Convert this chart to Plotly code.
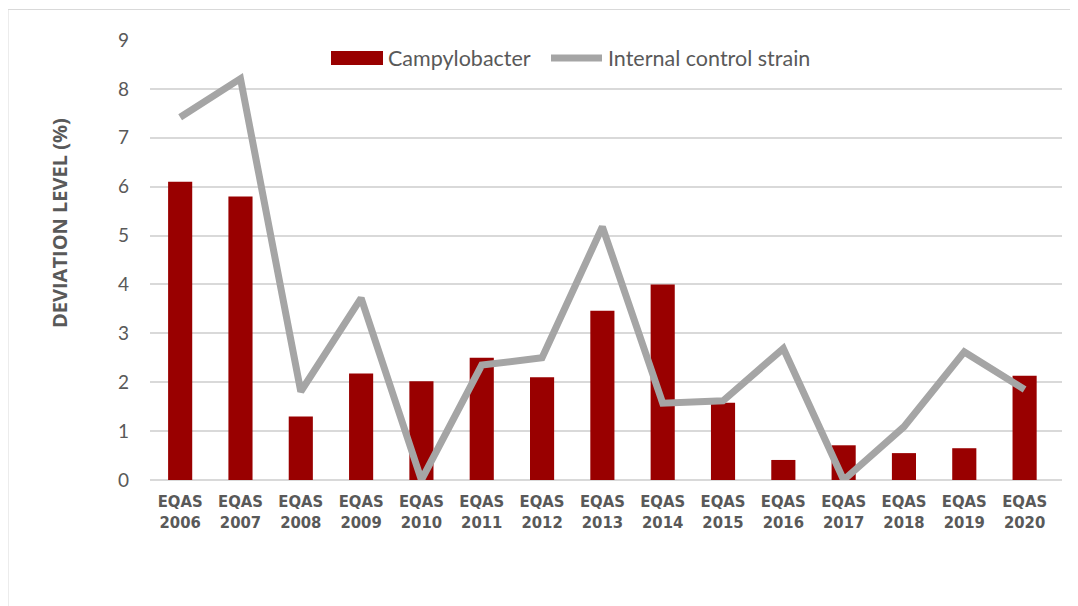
import plotly.graph_objects as go

categories = ["EQAS<br>2006", "EQAS<br>2007", "EQAS<br>2008", "EQAS<br>2009", "EQAS<br>2010",
              "EQAS<br>2011", "EQAS<br>2012", "EQAS<br>2013", "EQAS<br>2014", "EQAS<br>2015",
              "EQAS<br>2016", "EQAS<br>2017", "EQAS<br>2018", "EQAS<br>2019", "EQAS<br>2020"]
campylobacter = [6.1, 5.8, 1.3, 2.18, 2.02, 2.5, 2.1, 3.46, 4.0, 1.58, 0.41, 0.71, 0.55, 0.65, 2.13]
internal_control = [7.42, 8.21, 1.81, 3.72, 0.0, 2.35, 2.5, 5.18, 1.57, 1.62, 2.69, 0.0, 1.09, 2.62, 1.85]
y_ticks = [0, 1, 2, 3, 4, 5, 6, 7, 8, 9]
series_names = ["Campylobacter", "Internal control strain"]
bar_color = "#990000"
line_color = "#a5a5a5"

OFF = 8  # page body margin offset
W, H = 1078, 606
ml, mr, mt, mb = 150 - OFF, 24, 40 - OFF, 134
pw, ph = W - ml - mr, H - mt - mb

def px_x(p):
    return (p - OFF - ml) / pw

def px_y(p):
    return (H - mb - (p - OFF)) / ph

xs = list(range(len(categories)))
fig = go.Figure()
fig.add_trace(go.Bar(x=xs, y=campylobacter, name=series_names[0],
                     marker=dict(color=bar_color, line=dict(width=0)), showlegend=False))
fig.add_trace(go.Scatter(x=xs, y=internal_control, name=series_names[1],
                         mode="lines", line=dict(color=line_color, width=7), showlegend=False))

legend_font = dict(family="Lato, Open Sans, sans-serif", size=21.5, color="#595959")

fig.update_layout(
    width=W, height=H,
    margin=dict(l=ml, r=mr, t=mt, b=mb),
    paper_bgcolor="white", plot_bgcolor="white",
    bargap=0.6,
    xaxis=dict(tickmode="array", tickvals=xs, ticktext=categories,
               range=[-0.5, 14.62], showgrid=False, zeroline=False, showline=False, ticks="",
               tickfont=dict(family="DejaVu Sans Condensed, Liberation Sans Narrow, Arial Narrow, sans-serif",
                             size=16.5, color="#595959", weight="bold"),
               ticklabelstandoff=9, tickangle=0, fixedrange=True),
    yaxis=dict(range=[0, 9], tickmode="array", tickvals=y_ticks, showgrid=True,
               gridcolor="#d9d9d9", gridwidth=1.5, zeroline=True, zerolinecolor="#d9d9d9",
               zerolinewidth=1.5, showline=False, ticks="",
               tickfont=dict(family="Lato, Open Sans, sans-serif", size=19, color="#595959"),
               ticklabelstandoff=20, fixedrange=True),
    shapes=[
        dict(type="line", xref="paper", yref="paper", x0=px_x(8), x1=px_x(8), y0=px_y(9.5), y1=px_y(620),
             line=dict(color="#d9d9d9", width=1)),
        dict(type="line", xref="paper", yref="paper", x0=px_x(8), x1=px_x(1090), y0=px_y(9.5), y1=px_y(9.5),
             line=dict(color="#d9d9d9", width=1)),
        # legend swatches
        dict(type="rect", xref="paper", yref="paper", x0=px_x(331), x1=px_x(383), y0=px_y(65), y1=px_y(51),
             fillcolor=bar_color, line=dict(width=0)),
        dict(type="line", xref="paper", yref="paper", x0=px_x(551), x1=px_x(602), y0=px_y(58), y1=px_y(58),
             line=dict(color=line_color, width=7)),
    ],
    annotations=[
        dict(text="<b>DEVIATION LEVEL (%)</b>", xref="paper", yref="paper", x=px_x(59), y=px_y(223),
             xanchor="center", yanchor="middle", textangle=-90, showarrow=False,
             font=dict(family="Open Sans, Lato, sans-serif", size=20, color="#595959")),
        dict(text=series_names[0], xref="paper", yref="paper", x=px_x(386), y=px_y(58),
             xanchor="left", yanchor="middle", showarrow=False, font=legend_font),
        dict(text=series_names[1], xref="paper", yref="paper", x=px_x(606), y=px_y(58),
             xanchor="left", yanchor="middle", showarrow=False, font=legend_font),
    ],
)

fig.write_html("out.html")
